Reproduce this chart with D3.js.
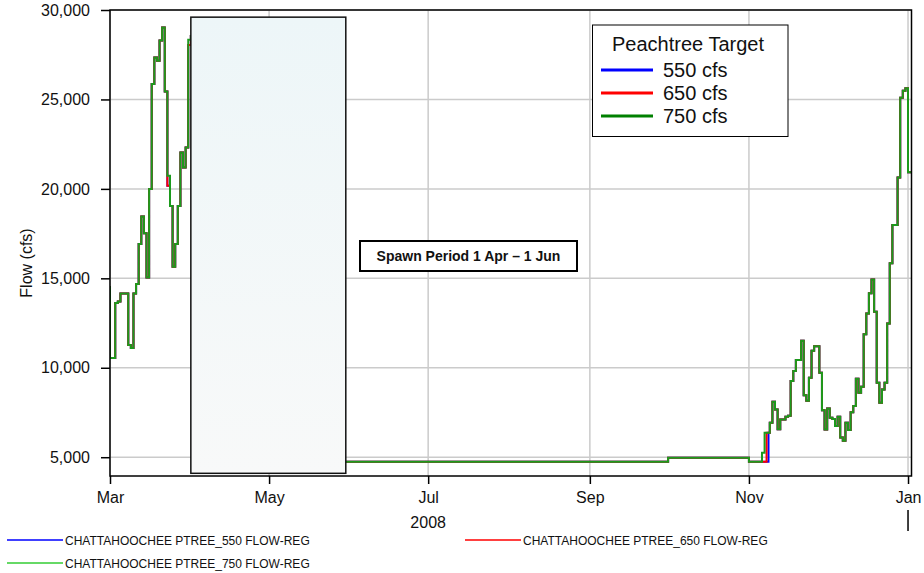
<!DOCTYPE html>
<html>
<head>
<meta charset="utf-8">
<script src="https://cdn.jsdelivr.net/npm/d3@7"></script>
<style>
  html, body { margin: 0; padding: 0; background: #fff; }
  svg { display: block; font-family: "Liberation Sans", Arial, sans-serif; }
</style>
</head>
<body>
<svg id="chart" width="924" height="573"></svg>
<script>
// Regulated flow at Peachtree Creek (cfs), step changes per scenario
const flow550 = [
  ["2008-02-29", 14500], ["2008-03-01", 10550], ["2008-03-03", 13620], ["2008-03-04", 13700],
  ["2008-03-05", 14150], ["2008-03-08", 11270], ["2008-03-09", 11100], ["2008-03-10", 14150],
  ["2008-03-11", 14680], ["2008-03-12", 16920], ["2008-03-13", 18450], ["2008-03-14", 17520],
  ["2008-03-15", 15050], ["2008-03-16", 19990], ["2008-03-17", 25870], ["2008-03-18", 27340],
  ["2008-03-19", 27170], ["2008-03-20", 28290], ["2008-03-21", 29020], ["2008-03-22", 25440],
  ["2008-03-23", 20180], ["2008-03-24", 19040], ["2008-03-25", 15650], ["2008-03-26", 16920],
  ["2008-03-27", 19040], ["2008-03-28", 22030], ["2008-03-29", 21190], ["2008-03-30", 22310],
  ["2008-03-31", 28050], ["2008-04-01", 28550], ["2008-04-08", 26000], ["2008-04-15", 21000],
  ["2008-04-22", 16000], ["2008-05-01", 12000], ["2008-05-10", 9000], ["2008-05-18", 6500],
  ["2008-05-25", 4750], ["2008-10-01", 4970], ["2008-11-01", 4750], ["2008-11-08T12:00", 6370],
  ["2008-11-09", 6920], ["2008-11-10", 8100], ["2008-11-11", 7670], ["2008-11-12", 6570],
  ["2008-11-13", 7110], ["2008-11-15", 7260], ["2008-11-16", 7320], ["2008-11-17", 9260],
  ["2008-11-18", 9820], ["2008-11-19", 10430], ["2008-11-21", 11510], ["2008-11-22", 8470],
  ["2008-11-23", 8150], ["2008-11-24", 9440], ["2008-11-25", 10950], ["2008-11-26", 11210],
  ["2008-11-28", 9720], ["2008-11-29", 7630], ["2008-11-30", 6550], ["2008-12-01", 7730],
  ["2008-12-02", 7200], ["2008-12-03", 7130], ["2008-12-04", 6740], ["2008-12-05", 7260],
  ["2008-12-06", 6100], ["2008-12-07", 5920], ["2008-12-08", 6920], ["2008-12-09", 6520],
  ["2008-12-10", 7510], ["2008-12-11", 7860], ["2008-12-12", 9390], ["2008-12-13", 8600],
  ["2008-12-14", 8940], ["2008-12-15", 11880], ["2008-12-16", 13040], ["2008-12-17", 14160],
  ["2008-12-18", 14940], ["2008-12-19", 13130], ["2008-12-20", 9160], ["2008-12-21", 8040],
  ["2008-12-22", 8790], ["2008-12-23", 9160], ["2008-12-24", 12480], ["2008-12-25", 15850],
  ["2008-12-26", 17980], ["2008-12-28", 20630], ["2008-12-29", 25100], ["2008-12-30", 25480],
  ["2008-12-31", 25630], ["2009-01-01", 20930], ["2009-01-03", 20930]
];

const flow650 = [
  ["2008-02-29", 14500], ["2008-03-01", 10550], ["2008-03-03", 13620], ["2008-03-04", 13700],
  ["2008-03-05", 14150], ["2008-03-08", 11270], ["2008-03-09", 11100], ["2008-03-10", 14150],
  ["2008-03-11", 14680], ["2008-03-12", 16920], ["2008-03-13", 18450], ["2008-03-14", 17520],
  ["2008-03-15", 15050], ["2008-03-16", 19990], ["2008-03-17", 25870], ["2008-03-18", 27340],
  ["2008-03-19", 27170], ["2008-03-20", 28290], ["2008-03-21", 29020], ["2008-03-22", 25440],
  ["2008-03-23", 20180], ["2008-03-24", 19040], ["2008-03-25", 15650], ["2008-03-26", 16920],
  ["2008-03-27", 19040], ["2008-03-28", 22030], ["2008-03-29", 21190], ["2008-03-30", 22310],
  ["2008-03-31", 28050], ["2008-04-01", 28550], ["2008-04-08", 26000], ["2008-04-15", 21000],
  ["2008-04-22", 16000], ["2008-05-01", 12000], ["2008-05-10", 9000], ["2008-05-18", 6500],
  ["2008-05-25", 4750], ["2008-10-01", 4970], ["2008-11-01", 4750], ["2008-11-07T18:00", 6370],
  ["2008-11-09", 6920], ["2008-11-10", 8100], ["2008-11-11", 7670], ["2008-11-12", 6570],
  ["2008-11-13", 7110], ["2008-11-15", 7260], ["2008-11-16", 7320], ["2008-11-17", 9260],
  ["2008-11-18", 9820], ["2008-11-19", 10430], ["2008-11-21", 11510], ["2008-11-22", 8470],
  ["2008-11-23", 8150], ["2008-11-24", 9440], ["2008-11-25", 10950], ["2008-11-26", 11210],
  ["2008-11-28", 9720], ["2008-11-29", 7630], ["2008-11-30", 6550], ["2008-12-01", 7730],
  ["2008-12-02", 7200], ["2008-12-03", 7130], ["2008-12-04", 6740], ["2008-12-05", 7260],
  ["2008-12-06", 6100], ["2008-12-07", 5920], ["2008-12-08", 6920], ["2008-12-09", 6520],
  ["2008-12-10", 7510], ["2008-12-11", 7860], ["2008-12-12", 9390], ["2008-12-13", 8600],
  ["2008-12-14", 8940], ["2008-12-15", 11880], ["2008-12-16", 13040], ["2008-12-17", 14160],
  ["2008-12-18", 14940], ["2008-12-19", 13130], ["2008-12-20", 9160], ["2008-12-21", 8040],
  ["2008-12-22", 8790], ["2008-12-23", 9160], ["2008-12-24", 12480], ["2008-12-25", 15850],
  ["2008-12-26", 17980], ["2008-12-28", 20630], ["2008-12-29", 25100], ["2008-12-30", 25480],
  ["2008-12-31", 25630], ["2009-01-01", 20930], ["2009-01-03", 20930]
];

const flow750 = [
  ["2008-02-29", 14500], ["2008-03-01", 10550], ["2008-03-03", 13620], ["2008-03-04", 13700],
  ["2008-03-05", 14150], ["2008-03-08", 11270], ["2008-03-09", 11100], ["2008-03-10", 14150],
  ["2008-03-11", 14680], ["2008-03-12", 16920], ["2008-03-13", 18450], ["2008-03-14", 17520],
  ["2008-03-15", 15050], ["2008-03-16", 19990], ["2008-03-17", 25870], ["2008-03-18", 27340],
  ["2008-03-19", 27170], ["2008-03-20", 28290], ["2008-03-21", 29020], ["2008-03-22", 25440],
  ["2008-03-23", 20740], ["2008-03-24", 19040], ["2008-03-25", 15650], ["2008-03-26", 16920],
  ["2008-03-27", 19040], ["2008-03-28", 22030], ["2008-03-29", 21190], ["2008-03-30", 22310],
  ["2008-03-31", 28330], ["2008-04-01", 28550], ["2008-04-08", 26000], ["2008-04-15", 21000],
  ["2008-04-22", 16000], ["2008-05-01", 12000], ["2008-05-10", 9000], ["2008-05-18", 6500],
  ["2008-05-25", 4750], ["2008-10-01", 4970], ["2008-11-01", 4750], ["2008-11-06", 5250],
  ["2008-11-07", 6370], ["2008-11-09", 6920], ["2008-11-10", 8100], ["2008-11-11", 7670],
  ["2008-11-12", 6570], ["2008-11-13", 7110], ["2008-11-15", 7260], ["2008-11-16", 7320],
  ["2008-11-17", 9260], ["2008-11-18", 9820], ["2008-11-19", 10430], ["2008-11-21", 11510],
  ["2008-11-22", 8470], ["2008-11-23", 8150], ["2008-11-24", 9440], ["2008-11-25", 10950],
  ["2008-11-26", 11210], ["2008-11-28", 9720], ["2008-11-29", 7630], ["2008-11-30", 6550],
  ["2008-12-01", 7730], ["2008-12-02", 7200], ["2008-12-03", 7130], ["2008-12-04", 6740],
  ["2008-12-05", 7260], ["2008-12-06", 6100], ["2008-12-07", 5920], ["2008-12-08", 6920],
  ["2008-12-09", 6520], ["2008-12-10", 7510], ["2008-12-11", 7860], ["2008-12-12", 9390],
  ["2008-12-13", 8600], ["2008-12-14", 8940], ["2008-12-15", 11880], ["2008-12-16", 13040],
  ["2008-12-17", 14160], ["2008-12-18", 14940], ["2008-12-19", 13130], ["2008-12-20", 9160],
  ["2008-12-21", 8040], ["2008-12-22", 8790], ["2008-12-23", 9160], ["2008-12-24", 12480],
  ["2008-12-25", 15850], ["2008-12-26", 17980], ["2008-12-28", 20630], ["2008-12-29", 25100],
  ["2008-12-30", 25480], ["2008-12-31", 25630], ["2009-01-01", 20930], ["2009-01-03", 20930]
];

const seriesNames = ["CHATTAHOOCHEE PTREE_550 FLOW-REG", "CHATTAHOOCHEE PTREE_650 FLOW-REG", "CHATTAHOOCHEE PTREE_750 FLOW-REG"];
const targetLabels = ["550 cfs", "650 cfs", "750 cfs"];
const yTicks = [5000, 10000, 15000, 20000, 25000, 30000];
const xTicks = ["2008-03-01", "2008-05-01", "2008-07-01", "2008-09-01", "2008-11-01", "2009-01-01"];
const xDomain = ["2008-03-01", "2009-01-02T08:00"];
const yDomain = [3950, 30000];
const yearLabel = "2008";
const spawnPeriod = ["2008-04-01", "2008-05-30T10:00"];
const spawnFlowRange = [4100, 29600];
const spawnLabel = "Spawn Period 1 Apr \u2013 1 Jun";

const parse = d3.isoParse;
const svg = d3.select("#chart");
const W = 924, H = 573;
const plot = { left: 110, right: 911.5, top: 10, bottom: 476 };

const x = d3.scaleTime().domain(xDomain.map(parse)).range([plot.left, plot.right]);
const y = d3.scaleLinear().domain(yDomain).range([plot.bottom, plot.top]);

svg.append("rect").attr("width", W).attr("height", H).attr("fill", "#fff");

const defs = svg.append("defs");
defs.append("clipPath").attr("id", "plotClip")
  .append("rect").attr("x", plot.left).attr("y", plot.top)
  .attr("width", plot.right - plot.left).attr("height", plot.bottom - plot.top);
const grad = defs.append("linearGradient").attr("id", "spawnFill")
  .attr("x1", 0).attr("y1", 0).attr("x2", 0).attr("y2", 1);
grad.append("stop").attr("offset", "0%").attr("stop-color", "#edf6f8");
grad.append("stop").attr("offset", "100%").attr("stop-color", "#f8f9f9");

// gridlines
const grid = svg.append("g").attr("stroke", "#cbcbcb").attr("stroke-width", 1.5);
grid.selectAll("line.h").data(yTicks).join("line").attr("class", "h")
  .attr("x1", plot.left).attr("x2", plot.right)
  .attr("y1", d => y(d)).attr("y2", d => y(d));
grid.selectAll("line.v").data(xTicks).join("line").attr("class", "v")
  .attr("x1", d => x(parse(d))).attr("x2", d => x(parse(d)))
  .attr("y1", plot.top).attr("y2", plot.bottom);

// flow series
const line = d3.line()
  .x(d => x(parse(d[0])))
  .y(d => y(d[1]))
  .curve(d3.curveStepAfter);

const series = [
  { data: flow550, color: "#0000ff" },
  { data: flow650, color: "#ff0000" },
  { data: flow750, color: "#1c9a1c" }
];
const lines = svg.append("g").attr("clip-path", "url(#plotClip)");
lines.selectAll("path").data(series).join("path")
  .attr("d", d => line(d.data))
  .attr("fill", "none")
  .attr("stroke", d => d.color)
  .attr("stroke-width", 2)
  .attr("stroke-linejoin", "miter");

// spawn period shading
svg.append("rect")
  .attr("x", x(parse(spawnPeriod[0])))
  .attr("y", y(spawnFlowRange[1]))
  .attr("width", x(parse(spawnPeriod[1])) - x(parse(spawnPeriod[0])))
  .attr("height", y(spawnFlowRange[0]) - y(spawnFlowRange[1]))
  .attr("fill", "url(#spawnFill)")
  .attr("stroke", "#111")
  .attr("stroke-width", 1.5);

// plot frame
svg.append("rect")
  .attr("x", plot.left).attr("y", plot.top)
  .attr("width", plot.right - plot.left).attr("height", plot.bottom - plot.top)
  .attr("fill", "none").attr("stroke", "#000").attr("stroke-width", 1.5);

// axes
const yAxis = svg.append("g").attr("transform", `translate(${plot.left},0)`)
  .call(d3.axisLeft(y).tickValues(yTicks).tickSize(9).tickPadding(11).tickFormat(d3.format(",")));
yAxis.select(".domain").remove();
yAxis.selectAll("line").attr("stroke", "#000").attr("stroke-width", 1.5);
yAxis.selectAll("text").attr("font-size", 16).attr("fill", "#111")
  .attr("font-family", "'Liberation Sans', Arial, sans-serif");

const xAxis = svg.append("g").attr("transform", `translate(0,${plot.bottom})`)
  .call(d3.axisBottom(x).tickValues(xTicks.map(parse)).tickSize(8).tickPadding(8).tickFormat(d3.timeFormat("%b")));
xAxis.select(".domain").remove();
xAxis.selectAll("line").attr("stroke", "#000").attr("stroke-width", 1.5);
xAxis.selectAll("text").attr("font-size", 16).attr("fill", "#111")
  .attr("font-family", "'Liberation Sans', Arial, sans-serif");

svg.append("text")
  .attr("x", x(parse(xTicks[2]))).attr("y", 528)
  .attr("text-anchor", "middle").attr("font-size", 16).attr("fill", "#111")
  .text(yearLabel);
svg.append("line")
  .attr("x1", x(parse(xTicks[5]))).attr("x2", x(parse(xTicks[5])))
  .attr("y1", 510).attr("y2", 531)
  .attr("stroke", "#000").attr("stroke-width", 1.5);

svg.append("text")
  .attr("transform", `translate(32,263) rotate(-90)`)
  .attr("text-anchor", "middle").attr("font-size", 16).attr("fill", "#111")
  .text("Flow (cfs)");

// spawn period label
const lab = svg.append("g");
lab.append("rect").attr("x", 360).attr("y", 241).attr("width", 217).attr("height", 30)
  .attr("fill", "#fff").attr("stroke", "#000").attr("stroke-width", 2);
lab.append("text").attr("x", 468.5).attr("y", 261)
  .attr("text-anchor", "middle").attr("font-size", 14).attr("font-weight", "bold").attr("fill", "#111")
  .text(spawnLabel);

// target legend
const legendColors = ["#0000ff", "#ff0000", "#008000"];
const lg = svg.append("g");
lg.append("rect").attr("x", 592.5).attr("y", 25).attr("width", 195.5).attr("height", 111.5)
  .attr("fill", "#fff").attr("stroke", "#000").attr("stroke-width", 1);
lg.append("text").attr("x", 688).attr("y", 51).attr("text-anchor", "middle")
  .attr("font-size", 20).attr("fill", "#111").text("Peachtree Target");
targetLabels.forEach((t, i) => {
  const yy = 70 + i * 23;
  lg.append("line").attr("x1", 601).attr("x2", 653).attr("y1", yy).attr("y2", yy)
    .attr("stroke", legendColors[i]).attr("stroke-width", 3);
  lg.append("text").attr("x", 663).attr("y", yy + 7).attr("font-size", 20).attr("fill", "#111").text(t);
});

// series legend
const bottomColors = ["#0000ff", "#ff0000", "#33cc33"];
const bottomPos = [[7, 540], [465, 540], [7, 563]];
seriesNames.forEach((n, i) => {
  const [bx, by] = bottomPos[i];
  svg.append("line").attr("x1", bx).attr("x2", bx + 56).attr("y1", by).attr("y2", by)
    .attr("stroke", bottomColors[i]).attr("stroke-width", 1.5);
  svg.append("text").attr("x", bx + 58).attr("y", by + 4.5)
    .attr("font-size", 12).attr("fill", "#111").text(n);
});
</script>
</body>
</html>
